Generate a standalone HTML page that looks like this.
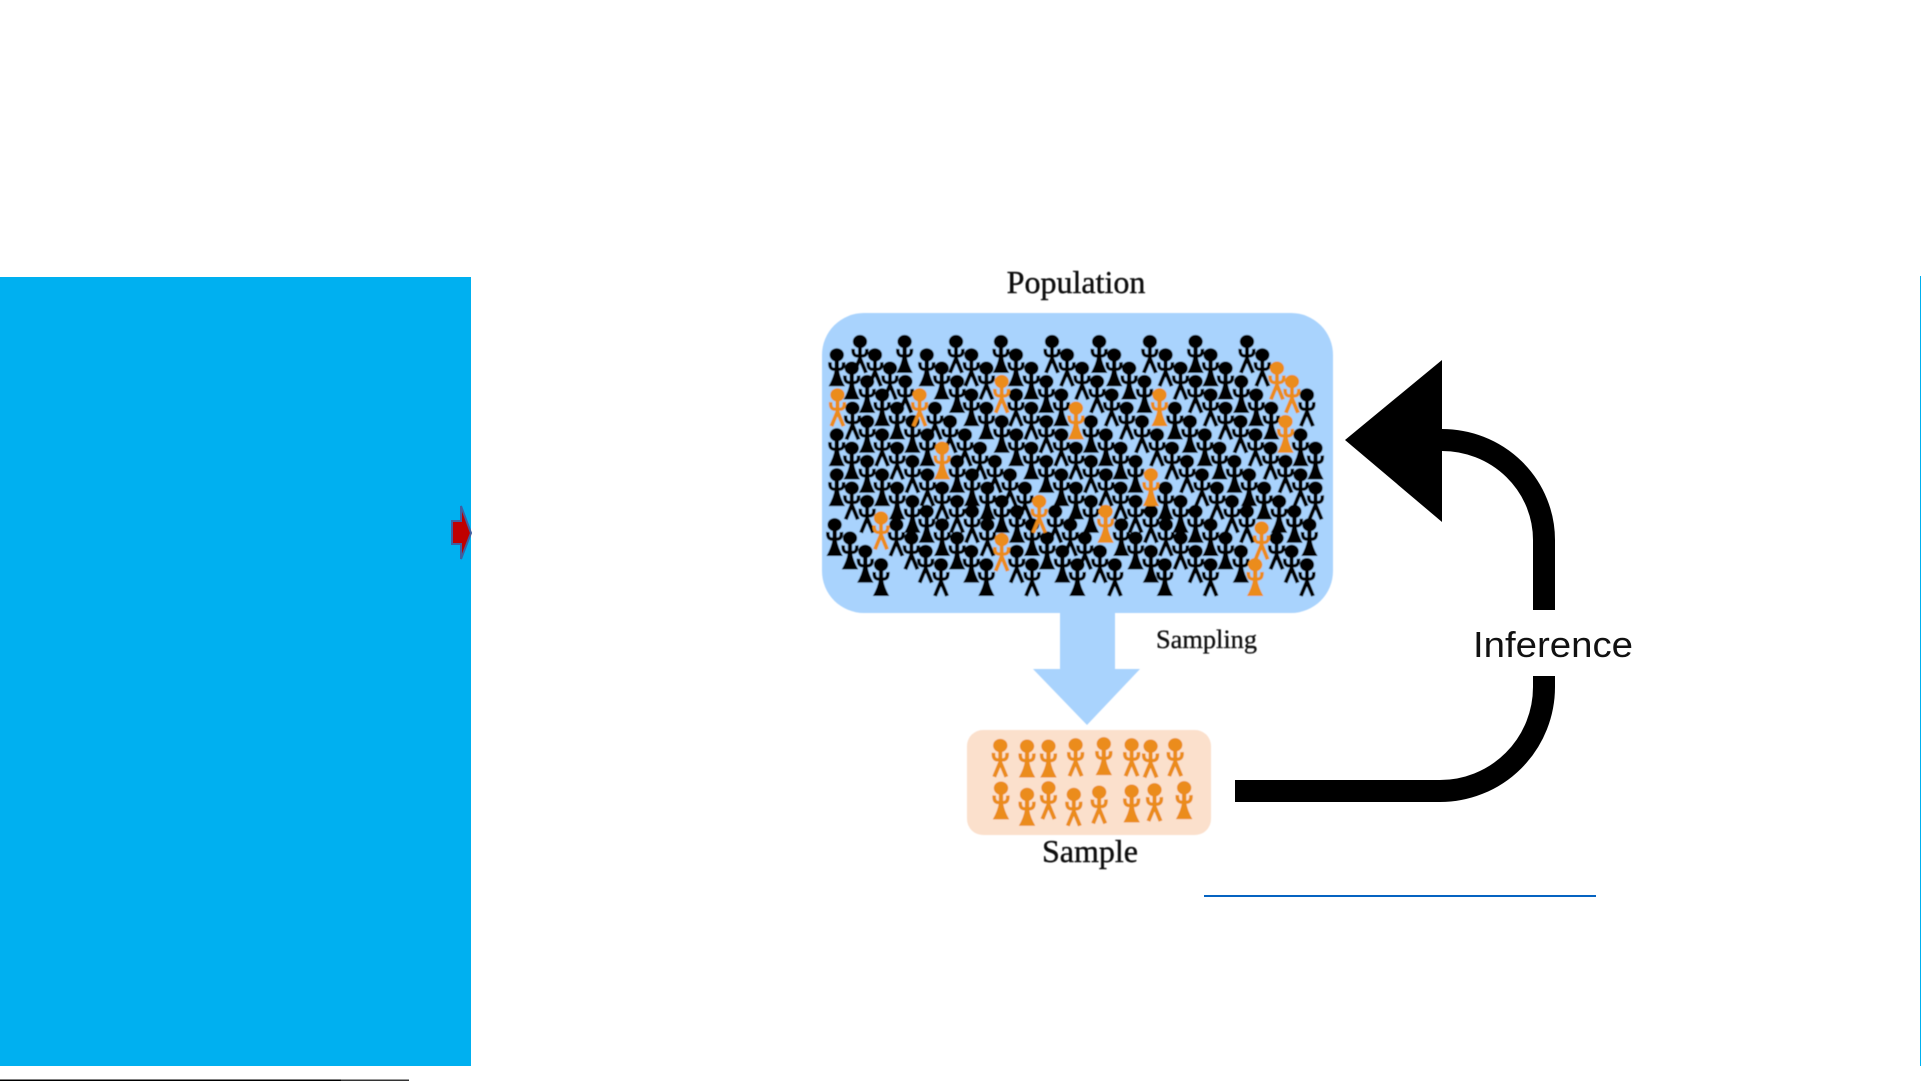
<!DOCTYPE html>
<html>
<head>
<meta charset="utf-8">
<style>
html,body{margin:0;padding:0;background:#fff;width:1921px;height:1081px;overflow:hidden}
svg{position:absolute;left:0;top:0;display:block}
.o{color:#EB8C1E}
</style>
</head>
<body>
<svg width="1921" height="1081" viewBox="0 0 1921 1081" xmlns="http://www.w3.org/2000/svg">
<defs>
<filter id="bl" x="-5%" y="-5%" width="110%" height="110%"><feGaussianBlur stdDeviation="0.6"/></filter>
<g id="a">
<circle r="20" fill="currentColor"/>
<path d="M-19,22 Q-21,48 0,42 Q21,48 19,22" fill="none" stroke="currentColor" stroke-width="10"/>
<path d="M-6,15 H6 V45 Q9,68 23,94 H-23 Q-9,68 -6,45Z" fill="currentColor"/>
</g>
<g id="b">
<circle r="20" fill="currentColor"/>
<path d="M-19,22 Q-21,48 0,42 Q21,48 19,22" fill="none" stroke="currentColor" stroke-width="10"/>
<path d="M0,15 V54 M0,50 L-17,94 M0,50 L17,94" fill="none" stroke="currentColor" stroke-width="11"/>
</g>
</defs>

<!-- left panel -->
<rect x="0" y="277" width="471" height="789" fill="#00B0F0"/>
<polygon points="452,521 461,521 461,506 471,533 461,559 461,544 452,544" fill="#C00000" stroke="#3F5FA0" stroke-width="2"/>
<rect x="0" y="1079.5" width="341" height="1.5" fill="#000"/>
<rect x="341" y="1079.5" width="68" height="1.5" fill="#333"/>
<rect x="1920" y="276" width="1" height="790" fill="#00B0F0"/>

<g filter="url(#bl)">
<rect x="822" y="313" width="511" height="300" rx="42" ry="42" fill="#A9D3FD"/>
<polygon points="1060,612 1115,612 1115,669 1140,669 1087,725 1033,669 1060,669" fill="#A9D3FD"/>
<rect x="967" y="730" width="244" height="105" rx="16" ry="16" fill="#FBE0CC"/>

<g transform="translate(800,250) scale(.357,.333)" color="#000">
<use href="#b" x="168" y="275"/><use href="#a" x="293" y="275"/><use href="#b" x="437" y="275"/><use href="#a" x="563" y="275"/><use href="#b" x="706" y="275"/><use href="#a" x="838" y="275"/><use href="#b" x="980" y="275"/><use href="#a" x="1108" y="275"/><use href="#b" x="1252" y="275"/>
<use href="#a" x="103" y="315"/><use href="#b" x="210" y="315"/><use href="#a" x="355" y="315"/><use href="#b" x="480" y="315"/><use href="#a" x="605" y="315"/><use href="#b" x="748" y="315"/><use href="#a" x="880" y="315"/><use href="#b" x="1024" y="315"/><use href="#a" x="1150" y="315"/><use href="#b" x="1295" y="315"/>
<use href="#a" x="145" y="355"/><use href="#b" x="252" y="355"/><use href="#a" x="397" y="355"/><use href="#b" x="522" y="355"/><use href="#a" x="648" y="355"/><use href="#b" x="790" y="355"/><use href="#a" x="922" y="355"/><use href="#b" x="1066" y="355"/><use href="#a" x="1192" y="355"/>
<use href="#a" x="188" y="395"/><use href="#b" x="295" y="395"/><use href="#a" x="440" y="395"/><use href="#a" x="690" y="395"/><use href="#b" x="832" y="395"/><use href="#a" x="965" y="395"/><use href="#b" x="1108" y="395"/><use href="#a" x="1236" y="395"/>
<use href="#a" x="230" y="435"/><use href="#a" x="480" y="435"/><use href="#b" x="605" y="435"/><use href="#a" x="732" y="435"/><use href="#b" x="873" y="435"/><use href="#b" x="1150" y="435"/><use href="#a" x="1278" y="435"/><use href="#b" x="1420" y="435"/>
<use href="#b" x="147" y="475"/><use href="#a" x="272" y="475"/><use href="#b" x="378" y="475"/><use href="#a" x="522" y="475"/><use href="#b" x="648" y="475"/><use href="#b" x="915" y="475"/><use href="#a" x="1050" y="475"/><use href="#b" x="1192" y="475"/><use href="#a" x="1320" y="475"/>
<use href="#a" x="188" y="515"/><use href="#a" x="315" y="515"/><use href="#b" x="420" y="515"/><use href="#a" x="565" y="515"/><use href="#b" x="690" y="515"/><use href="#a" x="815" y="515"/><use href="#b" x="958" y="515"/><use href="#a" x="1092" y="515"/><use href="#b" x="1234" y="515"/>
<use href="#a" x="103" y="555"/><use href="#b" x="230" y="555"/><use href="#a" x="357" y="555"/><use href="#b" x="462" y="555"/><use href="#a" x="606" y="555"/><use href="#b" x="732" y="555"/><use href="#a" x="857" y="555"/><use href="#b" x="1000" y="555"/><use href="#a" x="1134" y="555"/><use href="#b" x="1276" y="555"/><use href="#a" x="1402" y="555"/>
<use href="#a" x="145" y="595"/><use href="#b" x="272" y="595"/><use href="#b" x="504" y="595"/><use href="#a" x="648" y="595"/><use href="#b" x="773" y="595"/><use href="#a" x="898" y="595"/><use href="#b" x="1042" y="595"/><use href="#a" x="1175" y="595"/><use href="#b" x="1318" y="595"/><use href="#a" x="1444" y="595"/>
<use href="#a" x="188" y="635"/><use href="#b" x="315" y="635"/><use href="#a" x="440" y="635"/><use href="#b" x="546" y="635"/><use href="#a" x="690" y="635"/><use href="#b" x="815" y="635"/><use href="#a" x="940" y="635"/><use href="#b" x="1084" y="635"/><use href="#a" x="1217" y="635"/><use href="#b" x="1360" y="635"/>
<use href="#a" x="103" y="675"/><use href="#a" x="230" y="675"/><use href="#b" x="357" y="675"/><use href="#a" x="482" y="675"/><use href="#b" x="588" y="675"/><use href="#a" x="732" y="675"/><use href="#b" x="857" y="675"/><use href="#b" x="1126" y="675"/><use href="#a" x="1258" y="675"/><use href="#b" x="1402" y="675"/>
<use href="#b" x="145" y="715"/><use href="#a" x="272" y="715"/><use href="#b" x="398" y="715"/><use href="#a" x="525" y="715"/><use href="#b" x="630" y="715"/><use href="#a" x="773" y="715"/><use href="#b" x="898" y="715"/><use href="#a" x="1024" y="715"/><use href="#b" x="1168" y="715"/><use href="#a" x="1300" y="715"/><use href="#b" x="1444" y="715"/>
<use href="#b" x="188" y="755"/><use href="#a" x="315" y="755"/><use href="#b" x="440" y="755"/><use href="#a" x="565" y="755"/><use href="#a" x="815" y="755"/><use href="#b" x="940" y="755"/><use href="#a" x="1066" y="755"/><use href="#b" x="1210" y="755"/><use href="#a" x="1342" y="755"/>
<use href="#a" x="355" y="785"/><use href="#b" x="482" y="785"/><use href="#a" x="608" y="785"/><use href="#b" x="715" y="785"/><use href="#b" x="983" y="785"/><use href="#a" x="1108" y="785"/><use href="#b" x="1252" y="785"/><use href="#a" x="1385" y="785"/>
<use href="#a" x="97" y="825"/><use href="#b" x="270" y="825"/><use href="#a" x="398" y="825"/><use href="#b" x="525" y="825"/><use href="#a" x="650" y="825"/><use href="#b" x="757" y="825"/><use href="#a" x="900" y="825"/><use href="#b" x="1025" y="825"/><use href="#a" x="1150" y="825"/><use href="#a" x="1427" y="825"/>
<use href="#a" x="140" y="865"/><use href="#b" x="312" y="865"/><use href="#a" x="440" y="865"/><use href="#a" x="692" y="865"/><use href="#b" x="798" y="865"/><use href="#a" x="940" y="865"/><use href="#b" x="1066" y="865"/><use href="#a" x="1192" y="865"/><use href="#b" x="1335" y="865"/>
<use href="#a" x="183" y="905"/><use href="#b" x="352" y="905"/><use href="#a" x="480" y="905"/><use href="#b" x="607" y="905"/><use href="#a" x="735" y="905"/><use href="#b" x="840" y="905"/><use href="#a" x="983" y="905"/><use href="#b" x="1108" y="905"/><use href="#a" x="1235" y="905"/><use href="#b" x="1377" y="905"/>
<use href="#a" x="227" y="945"/><use href="#b" x="395" y="945"/><use href="#a" x="522" y="945"/><use href="#b" x="650" y="945"/><use href="#a" x="777" y="945"/><use href="#b" x="882" y="945"/><use href="#a" x="1022" y="945"/><use href="#b" x="1150" y="945"/><use href="#b" x="1420" y="945"/>

<!-- orange in population -->
<g class="o">
<use href="#b" x="1336" y="355"/><use href="#b" x="1378" y="395"/><use href="#b" x="565" y="395"/>
<use href="#b" x="105" y="435"/><use href="#b" x="335" y="435"/><use href="#a" x="1007" y="435"/>
<use href="#a" x="773" y="475"/><use href="#a" x="1360" y="515"/><use href="#a" x="398" y="595"/>
<use href="#a" x="983" y="675"/><use href="#b" x="670" y="755"/><use href="#a" x="856" y="785"/>
<use href="#b" x="227" y="805"/><use href="#b" x="1293" y="835"/><use href="#b" x="565" y="870"/><use href="#a" x="1275" y="945"/>
</g>

<!-- orange in sample -->
<g class="o">
<use href="#b" x="561" y="1488"/><use href="#a" x="636" y="1490"/><use href="#a" x="696" y="1490"/><use href="#b" x="772" y="1486"/><use href="#a" x="851" y="1483"/><use href="#b" x="929" y="1486"/><use href="#b" x="982" y="1490"/><use href="#b" x="1051" y="1486"/>
<use href="#a" x="563" y="1616"/><use href="#a" x="636" y="1635"/><use href="#b" x="696" y="1615"/><use href="#b" x="767" y="1635"/><use href="#b" x="838" y="1628"/><use href="#a" x="929" y="1625"/><use href="#b" x="993" y="1621"/><use href="#a" x="1076" y="1615"/>
</g>
</g>

<text x="1076" y="293" font-family="'Liberation Serif',serif" font-size="32" text-anchor="middle" fill="#111" stroke="#111" stroke-width=".4">Population</text>
<text x="1156" y="648" font-family="'Liberation Serif',serif" font-size="26" textLength="101" lengthAdjust="spacingAndGlyphs" fill="#111" stroke="#111" stroke-width=".3">Sampling</text>
<text x="1090" y="862" font-family="'Liberation Serif',serif" font-size="32" text-anchor="middle" fill="#111" stroke="#111" stroke-width=".4">Sample</text>
</g>

<!-- inference arrow -->
<g fill="none" stroke="#000" stroke-width="22">
<path d="M1235,791 H1440 A104,104 0 0 0 1544,687 V676"/>
<path d="M1544,610 V540 A102,100 0 0 0 1442,440"/>
</g>
<polygon points="1345,440 1442,360 1442,522" fill="#000"/>
<text x="1473" y="657" font-family="'Liberation Sans',sans-serif" font-size="36" textLength="160" lengthAdjust="spacingAndGlyphs" fill="#111">Inference</text>

<!-- blue underline -->
<rect x="1204" y="895" width="392" height="2" fill="#0563C1"/>
</svg>
</body>
</html>
